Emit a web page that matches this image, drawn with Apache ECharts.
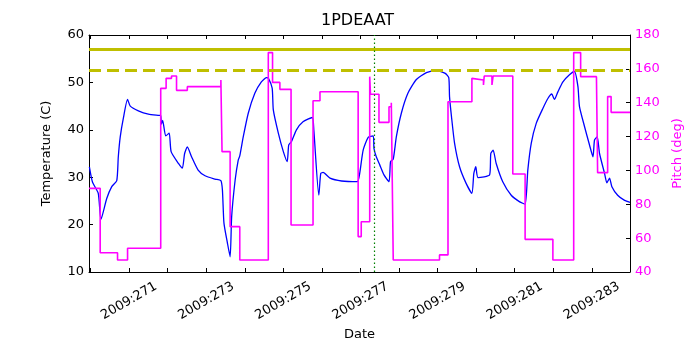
<!DOCTYPE html>
<html>
<head>
<meta charset="utf-8">
<script src="https://cdn.jsdelivr.net/npm/echarts@6/dist/echarts.min.js"></script>
<style>
    html, body { margin: 0; padding: 0; background: #fff; }
    #chart { width: 700px; height: 350px; }
</style>
</head>
<body>
<div id="chart"></div>
<script>
// day-of-year axis (2009)
var day_min = 269.96;
var day_max = 283.99;
var tick_days = [270, 271, 272, 273, 274, 275, 276, 277, 278, 279, 280, 281, 282, 283];
var label_days = [271, 273, 275, 277, 279, 281, 283];

// temperature trace (left axis)
var temp_days = [269.97, 270.05, 270.20, 270.27, 270.42, 270.55, 270.68, 270.72, 270.77, 270.85,
    270.96, 271.03, 271.24, 271.50, 271.78, 271.82, 271.84, 271.87, 271.95, 272.04,
    272.09, 272.28, 272.38, 272.44, 272.51, 272.62, 272.79, 272.97, 273.23, 273.38,
    273.42, 273.46, 273.55, 273.62, 273.66, 273.75, 273.83, 273.87, 273.96, 274.09,
    274.26, 274.43, 274.56, 274.61, 274.71, 274.74, 274.87, 275.00, 275.10, 275.14,
    275.21, 275.34, 275.51, 275.75, 275.79, 275.92, 275.97, 276.03, 276.21, 276.51,
    276.92, 276.98, 277.07, 277.20, 277.33, 277.35, 277.41, 277.50, 277.61, 277.74,
    277.78, 277.85, 277.93, 278.06, 278.23, 278.45, 278.71, 278.97, 279.20, 279.29,
    279.31, 279.36, 279.44, 279.57, 279.74, 279.89, 279.94, 279.99, 280.05, 280.35,
    280.38, 280.44, 280.52, 280.69, 280.91, 281.13, 281.27, 281.34, 281.43, 281.56,
    281.73, 281.86, 281.96, 282.03, 282.12, 282.25, 282.42, 282.55, 282.64, 282.68,
    282.81, 282.94, 283.03, 283.07, 283.14, 283.20, 283.33, 283.39, 283.46, 283.52,
    283.67, 283.85, 283.99];
var temp_values = [32.2, 29.0, 26.6, 21.1, 25.5, 28.0, 29.3, 34.3, 38.5, 42.4,
    46.4, 45.0, 44.0, 43.3, 43.05, 43.0, 41.2, 42.0, 38.7, 39.3,
    35.4, 32.9, 31.9, 35.0, 36.4, 34.3, 31.5, 30.3, 29.6, 29.3,
    27.3, 20.3, 16.1, 13.2, 21.7, 29.4, 33.6, 34.5, 38.5, 43.5,
    47.7, 50.1, 51.0, 50.9, 48.8, 44.2, 39.3, 35.4, 33.3, 36.8,
    37.5, 40.0, 41.7, 42.6, 40.0, 26.2, 30.8, 31.0, 29.8, 29.2,
    29.05, 30.8, 35.7, 38.4, 38.7, 36.1, 34.3, 32.6, 30.5, 29.05,
    33.3, 33.8, 38.5, 43.5, 47.7, 50.6, 52.05, 52.5, 51.9, 51.0,
    47.0, 42.8, 37.2, 32.2, 28.7, 26.6, 30.8, 32.2, 29.9, 30.5,
    35.0, 35.7, 32.9, 29.05, 26.2, 24.8, 24.3, 31.5, 37.2, 41.4,
    44.5, 46.6, 47.55, 46.4, 48.0, 50.1, 51.6, 52.3, 49.1, 44.9,
    40.7, 36.8, 34.3, 37.85, 38.5, 35.0, 30.8, 28.8, 29.8, 28.0,
    26.2, 25.1, 24.7];

// pitch trace (right axis), value held from each day until the next
var pitch_days = [269.96, 270.25, 270.70, 270.96, 271.82, 271.96, 272.10, 272.23, 272.51, 273.38,
    273.41, 273.62, 273.87, 274.61, 274.72, 274.91, 275.20, 275.77, 275.95, 276.94,
    277.02, 277.24, 277.26, 277.48, 277.74, 277.80, 277.85, 279.05, 279.27, 279.89,
    279.91, 280.19, 280.21, 280.41, 280.44, 280.95, 281.27, 281.99, 282.53, 282.71,
    283.12, 283.15, 283.41, 283.50, 283.99];
var pitch_values = [89.4, 51.4, 47.1, 54.0, 148.5, 154.4, 155.8, 147.3, 149.5, 153.4,
    111.1, 66.8, 47.1, 169.6, 152.0, 147.9, 67.8, 141.2, 146.5, 60.9,
    69.7, 155.4, 145.0, 128.4, 137.6, 140.0, 47.1, 50.1, 140.6, 154.4,
    153.4, 150.5, 155.8, 150.5, 155.8, 97.9, 59.3, 47.1, 169.6, 155.4,
    156.4, 98.7, 143.6, 134.3, 134.3];

// limit lines and marker
var planning_limit = 57;
var caution_limit = 52.5;
var marker_day = 277.36;

var font = 'DejaVu Sans';

function pairs(xs, ys) {
    var out = [];
    for (var i = 0; i < xs.length; i++) {
        out.push([xs[i], ys[i]]);
    }
    return out;
}

function set_chart() {
    var chart = echarts.init(document.getElementById('chart'), null, {renderer: 'canvas'});
    var option = {
        animation: false,
        backgroundColor: '#ffffff',
        title: {
            text: '1PDEAAT',
            left: 321,
            top: 13,
            padding: 0,
            textStyle: {fontFamily: font, fontSize: 16, fontWeight: 'normal', color: '#000'}
        },
        grid: {left: 89, right: 70, top: 35, bottom: 78},
        xAxis: [
            {
                type: 'value',
                min: day_min,
                max: day_max,
                name: 'Date',
                nameLocation: 'middle',
                nameGap: 52,
                nameTextStyle: {fontFamily: font, fontSize: 13, color: '#000'},
                axisLine: {onZero: false, lineStyle: {color: '#000', width: 1}},
                axisTick: {inside: true, length: 4, customValues: tick_days, lineStyle: {color: '#000'}},
                axisLabel: {
                    customValues: label_days,
                    rotate: 30,
                    align: 'center',
                    verticalAlign: 'middle',
                    margin: 29,
                    fontFamily: font,
                    fontSize: 13,
                    color: '#000',
                    formatter: function (v) { return '2009:' + Math.round(v); }
                },
                splitLine: {show: false}
            },
            {
                type: 'value',
                position: 'top',
                min: day_min,
                max: day_max,
                axisLine: {onZero: false, lineStyle: {color: '#000', width: 1}},
                axisTick: {inside: true, length: 4, customValues: tick_days, lineStyle: {color: '#000'}},
                axisLabel: {show: false},
                splitLine: {show: false}
            }
        ],
        yAxis: [
            {
                type: 'value',
                min: 10,
                max: 60,
                interval: 10,
                name: 'Temperature (C)',
                nameLocation: 'middle',
                nameGap: 36,
                nameRotate: 90,
                nameTextStyle: {fontFamily: font, fontSize: 13, color: '#000'},
                axisLine: {show: true, onZero: false, lineStyle: {color: '#000', width: 1}},
                axisTick: {show: true, inside: true, length: 4, lineStyle: {color: '#000'}},
                axisLabel: {margin: 5, fontFamily: font, fontSize: 13, color: '#000'},
                splitLine: {show: false}
            },
            {
                type: 'value',
                position: 'right',
                min: 40,
                max: 180,
                interval: 20,
                name: 'Pitch (deg)',
                nameLocation: 'middle',
                nameGap: 36,
                nameRotate: 90,
                nameTextStyle: {fontFamily: font, fontSize: 13, color: '#ff00ff'},
                axisLine: {show: true, onZero: false, lineStyle: {color: '#000', width: 1}},
                axisTick: {show: true, inside: true, length: 4, lineStyle: {color: '#000'}},
                axisLabel: {margin: 5, fontFamily: font, fontSize: 13, color: '#ff00ff'},
                splitLine: {show: false}
            }
        ],
        series: [
            {
                name: 'limits',
                type: 'line',
                xAxisIndex: 0,
                yAxisIndex: 0,
                data: [],
                z: 1,
                markLine: {
                    silent: true,
                    symbol: 'none',
                    label: {show: false},
                    data: [
                        {yAxis: planning_limit, lineStyle: {color: '#bfbf00', width: 3, type: 'solid'}},
                        {yAxis: caution_limit, lineStyle: {color: '#bfbf00', width: 3, type: [12, 6]}},
                        {xAxis: marker_day, lineStyle: {color: '#008000', width: 1.2, type: [1.5, 2.5]}}
                    ]
                }
            },
            {
                name: 'Temperature',
                type: 'line',
                xAxisIndex: 0,
                yAxisIndex: 0,
                data: pairs(temp_days, temp_values),
                showSymbol: false,
                symbol: 'none',
                smooth: 0.2,
                z: 2,
                lineStyle: {color: '#0000ff', width: 1.3}
            },
            {
                name: 'Pitch',
                type: 'line',
                xAxisIndex: 0,
                yAxisIndex: 1,
                step: 'end',
                data: pairs(pitch_days, pitch_values),
                showSymbol: false,
                symbol: 'none',
                z: 3,
                lineStyle: {color: '#ff00ff', width: 1.6}
            }
        ]
    };
    chart.setOption(option);
}

set_chart();
</script>
</body>
</html>
